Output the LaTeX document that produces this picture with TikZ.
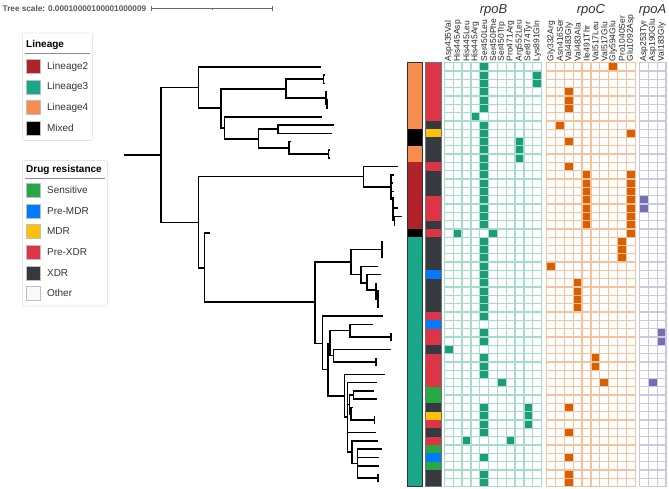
\documentclass[tikz,border=0pt]{standalone}
\usepackage{fontspec}
\setmainfont{Liberation Sans}
\usepackage{tikz}
\usetikzlibrary{positioning, calc}
\usepackage{xcolor}
\definecolor{lintwo}{HTML}{B0232A}
\definecolor{linthree}{HTML}{19A689}
\definecolor{linfour}{HTML}{F68D4F}
\definecolor{sensitive}{HTML}{28A745}
\definecolor{premdr}{HTML}{007BFF}
\definecolor{mdr}{HTML}{FFC107}
\definecolor{prexdr}{HTML}{DC3545}
\definecolor{xdr}{HTML}{343A40}
\definecolor{otherres}{HTML}{F8F9FA}
\definecolor{rpobdark}{HTML}{1B9E77}
\definecolor{rpoblight}{HTML}{A6DCCB}
\definecolor{rpocdark}{HTML}{D95F02}
\definecolor{rpoclight}{HTML}{F4C29C}
\definecolor{rpoadark}{HTML}{7570B3}
\definecolor{rpoalight}{HTML}{CBC8E6}

\begin{document}
\begin{tikzpicture}[
  x=1pt, y=-1pt,
  declare function={ry(\i)=66.86+8.31*\i; cy(\i)=62.7+8.31*\i;},
  branch/.style={line width=1.6pt},
  cell/.style={line width=1.3pt, fill=white},
  mutlab/.style={rotate=90, anchor=west, inner sep=0pt,
                 font=\fontsize{8.5}{9}\selectfont, text=black!85},
  genelab/.style={font=\itshape\fontsize{13}{15}\selectfont, text=black!80},
  legbox/.style={draw=black!10, rounded corners=2pt, line width=0.6pt},
  legtitle/.style={anchor=west, inner sep=0pt,
                   font=\bfseries\fontsize{10}{12}\selectfont},
  swatch/.style={draw=black!25, line width=0.4pt, minimum size=14pt,
                 inner sep=0pt},
  legtext/.style={inner sep=0pt, font=\fontsize{10}{12}\selectfont,
                  text=black!80},
]
  \useasboundingbox (0,0) rectangle (669,489);

  % Tree scale
  \node[anchor=west, inner sep=0pt, text=black!65,
        font=\bfseries\fontsize{8.2}{9}\selectfont] (scaletxt) at (2.5,8.8)
    {Tree scale: 0.00010000100001000009};
  \coordinate (bar0) at (151.7,8.8);
  \coordinate (bar1) at (272.7,8.8);
  \draw[black!60, line width=0.6pt] (bar0) -- (bar1);
  \draw[black!60, line width=0.6pt] ($(bar0)+(0,-2.3)$) -- ($(bar0)+(0,2.3)$);
  \draw[black!60, line width=0.6pt] ($(bar1)+(0,-2.3)$) -- ($(bar1)+(0,2.3)$);
  \draw[black!60, line width=0.6pt] ($(bar0)!0.5!(bar1)$) -- ++(0,1.5);

  % Legend: lineage
  \draw[legbox] (22.5,33) rectangle (92.5,140.5);
  \node[legtitle] (lintitle) at (26,44.5) {Lineage};
  \draw[black!45, line width=0.8pt] (25,53.5) -- (90,53.5);
  \foreach \name/\col [count=\i] in {Lineage2/lintwo, Lineage3/linthree,
                                     Lineage4/linfour, Mixed/black} {
    \node[swatch, fill=\col] (lin\i) at (33,{46+20.5*\i}) {};
    \node[legtext, right=6.7pt of lin\i] {\name};
  }

  % Legend: drug resistance
  \draw[legbox] (22.5,160.5) rectangle (107.5,306);
  \node[legtitle] (drtitle) at (26,169.5) {Drug resistance};
  \draw[black!45, line width=0.8pt] (25,178.5) -- (105,178.5);
  \foreach \name/\col [count=\i] in {Sensitive/sensitive, Pre-MDR/premdr,
        MDR/mdr, Pre-XDR/prexdr, XDR/xdr, Other/otherres} {
    \node[swatch, fill=\col] (dr\i) at (33,{169.7+20.6*\i}) {};
    \node[legtext, right=6.7pt of dr\i] {\name};
  }

  % Tree: root
  \draw[branch] (124,155) -- (161,155);
  \draw[branch] (198.3,87.7) -| (161,222.3) -- (198.3,222.3);

  % Tree: lineage 4 clade
  \draw[branch] (321,{ry(0)}) -| (198.3,108.3) -- (220.7,108.3);
  \draw[branch] (285.7,89) -| (220.7,128.3) -- (224.3,128.3);
  \draw[branch] (323.3,79.3) -| (285.7,98.1) -- (325.7,98.1);
  \draw[branch] (324.5,{ry(1)}) -| (323.3,{ry(2)}) -- (324.5,{ry(2)});
  \draw[branch] (327,{ry(3)}) -| (325.7,104.3) -- (326.7,104.3);
  \draw[branch] (327.8,{ry(4)}) -| (326.7,{ry(5)}) -- (327.8,{ry(5)});
  \draw[branch] (322.3,{ry(6)}) -| (224.3,139) -- (258.3,139);
  \draw[branch] (277.7,129.2) -| (258.3,148.3) -- (289,148.3);
  \draw[branch] (334.3,{ry(7)}) -| (277.7,{ry(8)}) -- (331.7,{ry(8)});
  \draw[branch] (291,{ry(9)}) -| (289,154.1) -- (328.3,154.1);
  \draw[branch] (329.5,{ry(10)}) -| (328.3,{ry(11)}) -- (329.5,{ry(11)});

  % Tree: lineage 2 clade
  \draw[branch] (363.3,176.7) -| (198.3,267.7) -- (204.3,267.7);
  \draw[branch] (397.7,{ry(12)}) -| (363.3,187.3) -- (391,187.3);
  \draw[branch] (394,{ry(13)}) -| (391,199) -- (392.7,199);
  \draw[branch] (391,{ry(14)}) -- (392.5,{ry(14)});
  \draw[branch] (391,{ry(15)}) -- (394,{ry(15)});
  \draw[branch] (392.7,197) -- (392.7,220.6);
  \draw[branch] (392.7,{ry(17)}) -- (398.3,{ry(17)});
  \draw[branch] (392.7,220.6) -- (394.3,220.6);
  \draw[branch] (401.7,{ry(18)}) -| (394.3,{ry(19)}) -- (395.3,{ry(19)});

  % Tree: mixed leaf and lineage 3 clade
  \draw[branch] (210,{ry(20)}) -| (204.3,301.7) -- (315,301.7);
  \draw[branch] (350.7,262) -| (315,343.3) -- (322.3,343.3);
  \draw[branch] (381.7,{ry(22)}) -| (350.7,274.3) -- (361,274.3);
  \draw[branch] (381.7,{ry(21)}) -- (381.7,{ry(23)});
  \draw[branch] (378.3,{ry(24)}) -| (361,282.7) -- (366.7,282.7);
  \draw[branch] (380.7,{ry(25)}) -| (366.7,290) -- (376,290);
  \draw[branch] (376,{ry(26)}) -- (376,{ry(28)});
  \draw[branch] (376,{ry(27)}) -- (377.7,{ry(27)}) -- (377.7,{ry(29)});
  \draw[branch] (382.7,{ry(30)}) -| (322.3,369.3) -- (327.7,369.3);
  \draw[branch] (330,343.3) -| (327.7,395.7) -- (344.3,395.7);
  \draw[branch] (350,330.6) -| (330,355.5) -- (333.3,355.5);
  \draw[branch] (372.7,{ry(31)}) -| (350,336.9) -- (391,336.9);
  \draw[branch] (391,{ry(32)}) -- (391,{ry(33)});
  \draw[branch] (391,{ry(34)}) -| (333.3,361.9) -- (376,361.9);
  \draw[branch] (376,{ry(35)}) -- (376,{ry(36)});
  \draw[branch] (385,{ry(37)}) -| (344.3,417.2) -- (347.3,417.2);
  \draw[branch] (376.7,{ry(38)}) -| (347.3,452) -- (351.7,452);
  \draw[branch] (347.3,404.3) -- (349.3,404.3);
  \draw[branch] (347.3,{ry(44)}) -- (376,{ry(44)});
  \draw[branch] (353.3,395.1) -| (349.3,413.8) -- (351,413.8);
  \draw[branch] (374.3,{ry(39)}) -| (353.3,{ry(40)}) -- (376.7,{ry(40)});
  \draw[branch] (352.5,{ry(41)}) -| (351,420) -- (374.3,420);
  \draw[branch] (374.3,{ry(42)}) -- (374.3,{ry(43)});
  \draw[branch] (378.3,{ry(45)}) -| (351.7,463.6) -- (357.3,463.6);
  \draw[branch] (381.7,{ry(46)}) -| (357.3,478.2) -- (377.7,478.2);
  \draw[branch] (357.3,{ry(47)}) -- (379,{ry(47)});
  \draw[branch] (357.3,{ry(48)}) -- (379,{ry(48)});
  \draw[branch] (377.7,{ry(49)}) -- (377.7,{ry(50)});

  % Lineage strip
  \foreach \a/\b/\col in {0/8/linfour, 8/10/black, 10/12/linfour,
                          12/20/lintwo, 20/21/black, 21/51/linthree}
    \fill[\col] (407.3,{cy(\a)}) rectangle (422.3,{cy(\b)});
  \draw[black!80, line width=0.8pt] (407.3,{cy(0)}) rectangle (422.3,{cy(51)});

  % Drug resistance strip
  \foreach \a/\b/\col in {0/7/prexdr, 7/8/xdr, 8/9/mdr, 9/12/xdr,
      12/13/prexdr, 13/16/xdr, 16/19/prexdr, 19/20/xdr, 20/21/prexdr,
      21/25/xdr, 25/26/premdr, 26/30/xdr, 30/31/prexdr, 31/32/premdr,
      32/34/prexdr, 34/35/xdr, 35/39/prexdr, 39/41/sensitive, 41/42/xdr,
      42/43/mdr, 43/44/prexdr, 44/45/xdr, 45/46/prexdr, 46/47/sensitive,
      47/48/premdr, 48/49/sensitive, 49/51/xdr}
    \fill[\col] (425.7,{cy(\a)}) rectangle (441,{cy(\b)});
  \draw[black!55, line width=0.6pt] (425.7,{cy(0)}) rectangle (441,{cy(51)});

  % Mutation grids
  \foreach \gx/\ncol/\lt in {444.3/10/rpoblight, 546.7/9/rpoclight,
                             639.5/2/rpoalight}
    \foreach \c in {0,...,\ncol}
      \foreach \r in {0,...,50}
        \draw[cell, draw=\lt] ({\gx+8.85*\c},{cy(\r)}) rectangle ++(8.85,8.31);

  % rpoB hits
  \foreach \c/\rows in {0/{34}, 1/{20}, 2/{45}, 3/{6},
      4/{0,1,2,3,4,5,7,8,9,10,11,12,13,14,15,16,17,18,19,21,22,23,24,25,
         26,27,28,29,30,32,33,35,36,37,41,42,43,44,47,49,50},
      5/{20}, 6/{38}, 7/{45}, 8/{9,10,11}, 9/{41,42,43}, 10/{1,2}}
    \foreach \r in \rows
      \draw[cell, draw=rpoblight, fill=rpobdark]
        ({444.3+8.85*\c},{cy(\r)}) rectangle ++(8.85,8.31);

  % rpoC hits
  \foreach \c/\rows in {0/{24}, 1/{7}, 2/{3,4,5,9,12,41,44,47,49,50},
      3/{26,27,28,29}, 4/{13,14,15,16,17,18,19}, 5/{35,36}, 6/{38},
      7/{0}, 8/{21,22,23}, 9/{8,13,14,15,16,17,18,19,20}}
    \foreach \r in \rows
      \draw[cell, draw=rpoclight, fill=rpocdark]
        ({546.7+8.85*\c},{cy(\r)}) rectangle ++(8.85,8.31);

  % rpoA hits
  \foreach \c/\rows in {0/{16,17}, 1/{38}, 2/{32,33}}
    \foreach \r in \rows
      \draw[cell, draw=rpoalight, fill=rpoadark]
        ({639.5+8.85*\c},{cy(\r)}) rectangle ++(8.85,8.31);

  % Column labels
  \foreach \lab [count=\i from 0] in {Asp435Val, His445Asp, His445Leu,
      His445Arg, Ser450Leu, Ser450Phe, Ser450Trp, Pro471Arg, Arg552Leu,
      Ser874Tyr, Lys891Gln}
    \node[mutlab] at ({444.3+8.85*(\i+0.5)},61.5) {\lab};
  \foreach \lab [count=\i from 0] in {Gly332Arg, Asn416Ser, Val483Gly,
      Val483Ala, Ile491Thr, Val517Leu, Val517Glu, Gly594Glu, Pro1040Ser,
      Glu1092Asp}
    \node[mutlab] at ({546.7+8.85*(\i+0.5)},61.5) {\lab};
  \foreach \lab [count=\i from 0] in {Asp253Tyr, Asp190Glu, Val183Gly}
    \node[mutlab] at ({639.5+8.85*(\i+0.5)},61.5) {\lab};

  % Gene names
  \node[genelab] (rpob) at (493.5,10) {rpoB};
  \node[genelab] (rpoc) at (591,10) {rpoC};
  \node[genelab] (rpoa) at (652.5,10) {rpoA};
\end{tikzpicture}
\end{document}
